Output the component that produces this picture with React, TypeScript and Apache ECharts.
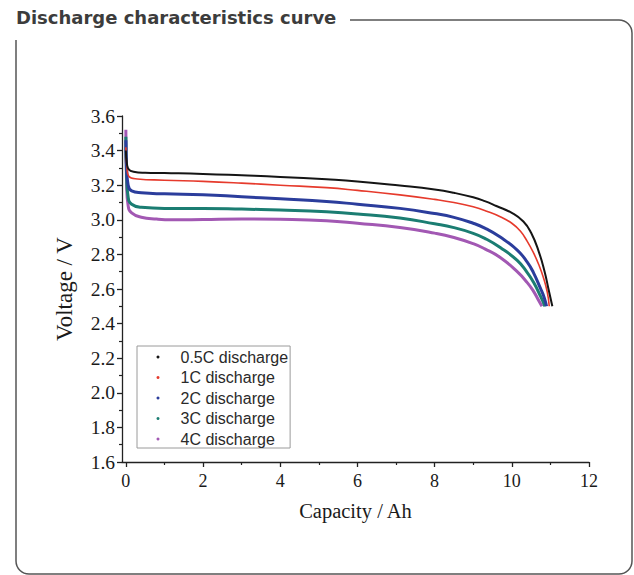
import React, { useEffect, useRef } from "react";
import * as echarts from "echarts";

const seriesNames = ["0.5C discharge", "1C discharge", "2C discharge", "3C discharge", "4C discharge"];
const seriesColors = ["#151515", "#e63a2c", "#2b3d9c", "#1b7d72", "#a258b3"];
const seriesWidths = [2, 1.6, 3, 3, 3];

// [capacity Ah, voltage V]
const curve05C: [number, number][] = [
  [0, 3.40], [0.03, 3.32], [0.08, 3.29], [0.2, 3.278], [0.5, 3.272], [1, 3.27], [2, 3.265],
  [3, 3.257], [4, 3.248], [5.2, 3.234], [6, 3.222], [7.1, 3.198], [8, 3.175], [8.5, 3.156],
  [9, 3.13], [9.3, 3.108], [9.6, 3.08], [10, 3.04], [10.3, 2.99], [10.5, 2.925], [10.7, 2.815],
  [10.85, 2.70], [10.95, 2.60], [11.05, 2.50],
];
const curve1C: [number, number][] = [
  [0, 3.42], [0.03, 3.30], [0.08, 3.25], [0.3, 3.236], [1, 3.229], [2, 3.222], [3, 3.212],
  [4, 3.20], [5.2, 3.186], [6, 3.17], [7.1, 3.144], [8, 3.118], [8.5, 3.10], [9, 3.075],
  [9.35, 3.05], [9.7, 3.018], [10, 2.98], [10.22, 2.935], [10.4, 2.875], [10.56, 2.81],
  [10.7, 2.74], [10.82, 2.665], [10.92, 2.58], [10.97, 2.50],
];
const curve2C: [number, number][] = [
  [0, 3.46], [0.02, 3.30], [0.06, 3.20], [0.15, 3.167], [0.4, 3.156], [1, 3.15], [2, 3.145],
  [3, 3.133], [4, 3.121], [5.2, 3.106], [6, 3.09], [7.1, 3.066], [8, 3.036], [8.5, 3.014],
  [9, 2.98], [9.3, 2.952], [9.7, 2.90], [10.14, 2.825], [10.4, 2.755], [10.56, 2.695],
  [10.74, 2.605], [10.84, 2.55], [10.9, 2.50],
];
const curve3C: [number, number][] = [
  [0, 3.48], [0.02, 3.25], [0.06, 3.13], [0.15, 3.09], [0.4, 3.072], [1, 3.066], [2, 3.066],
  [3, 3.062], [4, 3.056], [5.2, 3.046], [6, 3.034], [7.1, 3.01], [8, 2.977], [8.5, 2.955],
  [9, 2.922], [9.3, 2.893], [9.7, 2.84], [10.14, 2.765], [10.4, 2.695], [10.56, 2.64],
  [10.74, 2.56], [10.86, 2.50],
];
const curve4C: [number, number][] = [
  [0, 3.52], [0.02, 3.20], [0.06, 3.08], [0.15, 3.04], [0.4, 3.015], [0.8, 3.004], [1.2, 3.0],
  [2, 3.002], [3, 3.005], [4, 3.003], [5.2, 2.995], [6, 2.98], [7.1, 2.955], [8, 2.923],
  [8.5, 2.898], [9, 2.862], [9.3, 2.832], [9.7, 2.782], [10.14, 2.70], [10.4, 2.637],
  [10.56, 2.588], [10.7, 2.532], [10.78, 2.50],
];
const curves = [curve05C, curve1C, curve2C, curve3C, curve4C];

const xMajorTicks = [0, 2, 4, 6, 8, 10, 12];
const xMinorTicks = [1, 3, 5, 7, 9, 11];

const titleText = "Discharge characteristics curve";
const xAxisTitle = "Capacity / Ah";
const yAxisTitle = "Voltage / V";

const framePath =
  "M350 20 L619 20 A13 13 0 0 1 632 33 L632 561 A13 13 0 0 1 619 574 L29 574 A13 13 0 0 1 16 561 L16 40";

echarts.graphic.registerShape("frameShape", echarts.graphic.extendPath(framePath, {}) as any);

export default function App() {
  const ref = useRef<HTMLDivElement>(null);
  useEffect(() => {
    if (!ref.current) return;
    const chart = echarts.init(ref.current, null, { renderer: "svg" });
    const serif = "'Liberation Serif', 'Times New Roman', serif";
    const sans = "'Liberation Sans', Arial, sans-serif";
    chart.setOption({
      animation: false,
      backgroundColor: "#ffffff",
      grid: { left: 122, right: 45, top: 116, bottom: 113, outerBoundsMode: "none", containLabel: false },
      legend: {
        orient: "vertical",
        left: 137,
        top: 346,
        padding: [3, 2, 1, 19.5],
        itemWidth: 3,
        itemHeight: 3,
        itemGap: 4.5,
        icon: "circle",
        borderColor: "#9a9a9a",
        borderWidth: 1,
        textStyle: { fontFamily: sans, fontSize: 16, color: "#2a2a2a", lineHeight: 15, padding: [0, 0, 0, 16] },
        data: seriesNames,
      },
      xAxis: [
        {
          type: "value",
          min: -0.1,
          max: 12,
          position: "bottom",
          name: xAxisTitle,
          nameLocation: "middle",
          nameGap: 38,
          nameTextStyle: { fontFamily: serif, fontSize: 20.5, color: "#1a1a1a" },
          axisLine: { show: true, onZero: false, lineStyle: { color: "#222", width: 1.3 } },
          axisTick: { show: true, customValues: xMajorTicks, length: 5, lineStyle: { color: "#222", width: 1.3 } },
          axisLabel: { customValues: xMajorTicks, fontFamily: serif, fontSize: 18, color: "#1a1a1a", margin: 10 },
          splitLine: { show: false },
        },
        {
          type: "value",
          min: -0.1,
          max: 12,
          position: "bottom",
          axisLine: { show: false },
          axisTick: { show: true, customValues: xMinorTicks, length: 3, lineStyle: { color: "#222", width: 1.2 } },
          axisLabel: { show: false },
          splitLine: { show: false },
        },
      ],
      yAxis: {
        type: "value",
        min: 1.6,
        max: 3.6,
        interval: 0.2,
        name: yAxisTitle,
        nameLocation: "middle",
        nameGap: 46,
        nameTextStyle: { fontFamily: serif, fontSize: 23, color: "#1a1a1a" },
        axisLine: { show: true, onZero: false, lineStyle: { color: "#222", width: 1.3 } },
        axisTick: { show: true, length: 5, lineStyle: { color: "#222", width: 1.3 } },
        minorTick: { show: true, splitNumber: 2, length: 3, lineStyle: { color: "#222", width: 1.2 } },
        axisLabel: {
          fontFamily: serif,
          fontSize: 19.5,
          color: "#1a1a1a",
          margin: 7,
          formatter: (v: number) => v.toFixed(1),
        },
        splitLine: { show: false },
      },
      series: curves.map((d, i) => ({
        name: seriesNames[i],
        type: "line",
        data: d,
        showSymbol: false,
        smooth: 0.5,
        z: 10 - i,
        itemStyle: { color: seriesColors[i] },
        lineStyle: { color: seriesColors[i], width: seriesWidths[i] },
      })),
      graphic: [
        {
          type: "frameShape",
          x: 0,
          y: 0,
          silent: true,
          style: { fill: "none", stroke: "#555", lineWidth: 1.5 },
        },
        {
          type: "text",
          left: 16,
          top: 8,
          silent: true,
          style: {
            text: titleText,
            fontFamily: "'DejaVu Sans', sans-serif",
            fontWeight: "bold",
            fontSize: 18,
            fill: "#3c3c3c",
          },
        },
      ],
    });
    return () => chart.dispose();
  }, []);
  return <div ref={ref} style={{ position: "fixed", left: 0, top: 0, width: 634, height: 575 }} />;
}
